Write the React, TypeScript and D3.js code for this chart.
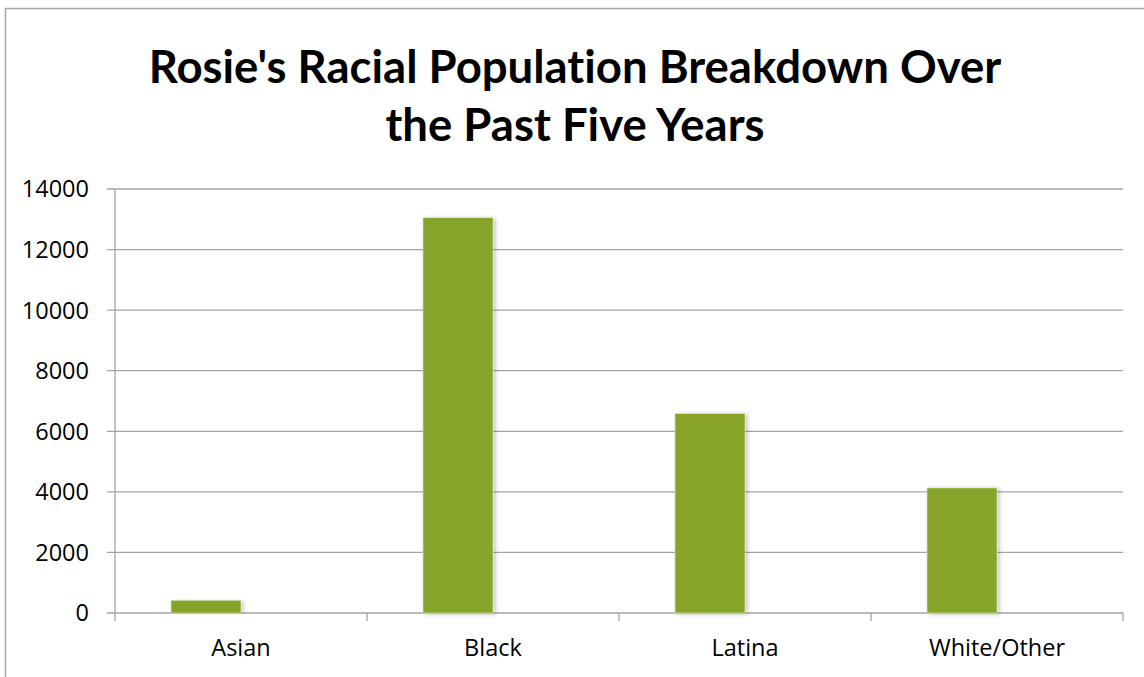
import React from "react";
import * as d3 from "d3";

const categories = ["Asian", "Black", "Latina", "White/Other"];
const series1 = [420, 13050, 6580, 4130];
const series2 = [0, 0, 0, 0];
const yTicks = [0, 2000, 4000, 6000, 8000, 10000, 12000, 14000];
const titleLines = ["Rosie's Racial Population Breakdown Over", "the Past Five Years"];

const W = 1144;
const H = 677;
const plot = { left: 115, right: 1123, top: 189, bottom: 613 };
const barColor = "#87A42A";
const gridColor = "#a3a3a3";

export default function App() {
  const x = d3.scaleBand<string>().domain(categories).range([plot.left, plot.right]).paddingInner(0).paddingOuter(0);
  const sub = d3.scaleBand<string>().domain(["s1", "s2"]).range([0, x.bandwidth()]).paddingInner(0).paddingOuter(0.8);
  const y = d3.scaleLinear().domain([0, 14000]).range([plot.bottom, plot.top]);

  const tickBoundaries = [...categories.map((c) => x(c) as number), plot.right];

  return (
    <svg width={W} height={H} style={{ position: "absolute", left: 0, top: 0, background: "#fff" }}>
      <defs>
        <filter id="shadow" x="-20%" y="-5%" width="140%" height="110%">
          <feDropShadow dx="2" dy="1" stdDeviation="2" floodColor="#000" floodOpacity="0.25" />
        </filter>
      </defs>
      <rect x={0} y={0} width={W} height={H} fill="#fff" />
      {/* outer frame */}
      <path d={`M5.5,${H} L5.5,8.5 L${W},8.5`} fill="none" stroke="#a6a6a6" strokeWidth={1.5} />

      {/* title */}
      <text
        x={575}
        textAnchor="middle"
        fontFamily="Lato, 'Open Sans', sans-serif"
        fontWeight={700}
        fontSize={45.5}
        fill="#000"
        style={{ fontVariantLigatures: "none", fontFeatureSettings: "'liga' 0, 'clig' 0" }}
      >
        {titleLines.map((l, i) => (
          <tspan key={i} x={575} y={83 + i * 58}>
            {l}
          </tspan>
        ))}
      </text>

      {/* gridlines */}
      {yTicks.map((t) => (
        <line key={t} x1={plot.left - 8} x2={plot.right} y1={y(t)} y2={y(t)} stroke={gridColor} strokeWidth={1.3} />
      ))}
      {/* y axis line */}
      <line x1={plot.left} x2={plot.left} y1={plot.top} y2={plot.bottom + 8} stroke={gridColor} strokeWidth={1.3} />
      {/* category tick marks */}
      {tickBoundaries.slice(1).map((bx, i) => (
        <line key={i} x1={bx} x2={bx} y1={plot.bottom} y2={plot.bottom + 8} stroke={gridColor} strokeWidth={1.3} />
      ))}

      {/* y labels */}
      {yTicks.map((t) => (
        <text
          key={t}
          x={89}
          y={y(t)}
          dy="0.36em"
          textAnchor="end"
          fontFamily="'Open Sans', sans-serif"
          fontSize={23.5}
          fill="#000"
        >
          {t}
        </text>
      ))}

      {/* bars */}
      {categories.map((c, i) => (
        <g key={c}>
          <rect
            x={(x(c) as number) + (sub("s1") as number)}
            y={y(series1[i])}
            width={sub.bandwidth()}
            height={y(0) - y(series1[i])}
            fill={barColor}
            stroke="#dfe8c4"
            strokeWidth={0.6}
            filter="url(#shadow)"
          />
          <rect
            x={(x(c) as number) + (sub("s2") as number)}
            y={y(series2[i])}
            width={sub.bandwidth()}
            height={y(0) - y(series2[i])}
            fill="#4F81BD"
          />
        </g>
      ))}

      {/* category labels */}
      {categories.map((c) => (
        <text
          key={c}
          x={(x(c) as number) + x.bandwidth() / 2}
          y={656}
          textAnchor="middle"
          fontFamily="'Open Sans', sans-serif"
          fontSize={23.5}
          fill="#000"
        >
          {c}
        </text>
      ))}
    </svg>
  );
}
